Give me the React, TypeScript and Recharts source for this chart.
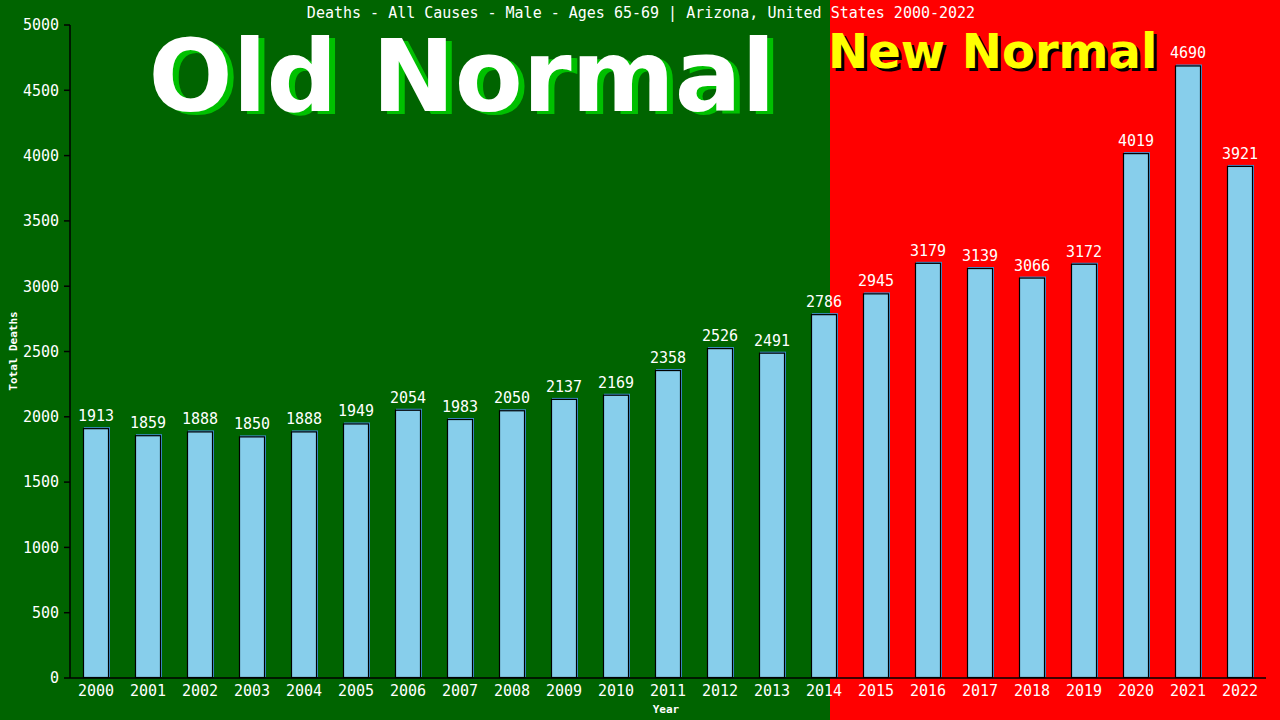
import React from "react";
import {
  BarChart,
  Bar,
  XAxis,
  YAxis,
  LabelList,
} from "recharts";

const YEARS = [
  "2000", "2001", "2002", "2003", "2004", "2005", "2006", "2007", "2008", "2009", "2010", "2011",
  "2012", "2013", "2014", "2015", "2016", "2017", "2018", "2019", "2020", "2021", "2022",
];
const DEATHS = [
  1913, 1859, 1888, 1850, 1888, 1949, 2054, 1983, 2050, 2137, 2169, 2358,
  2526, 2491, 2786, 2945, 3179, 3139, 3066, 3172, 4019, 4690, 3921,
];
const Y_TICKS = [0, 500, 1000, 1500, 2000, 2500, 3000, 3500, 4000, 4500, 5000];
const TITLE = "Deaths - All Causes - Male - Ages 65-69 | Arizona, United States 2000-2022";

const data = YEARS.map((year, i) => ({ year, deaths: DEATHS[i] }));

const MONO = "'DejaVu Sans Mono', monospace";
const BOLD_SANS = "'DejaVu Sans', Verdana, sans-serif";

// light blue bar with black outline and a thin blue shadow up/right
const renderBar = (props: any) => {
  const x = Number(props.x);
  const y = Number(props.y);
  const width = Number(props.width);
  const height = Number(props.height);
  if (!(height > 0) || !(width > 0)) return <g />;
  return (
    <g>
      <rect x={x + 1} y={y - 1} width={width} height={height} fill="#3f8fd0" />
      <rect
        x={x + 0.5}
        y={y + 0.5}
        width={width - 1}
        height={height - 1}
        fill="#87CEEB"
        stroke="#000"
        strokeWidth={1.2}
      />
    </g>
  );
};

export default function App() {
  return (
    <div
      style={{
        position: "absolute",
        left: 0,
        top: 0,
        width: 1280,
        height: 720,
        background: "linear-gradient(to right, #006400 0px, #006400 830px, #ff0000 830px, #ff0000 1280px)",
        overflow: "hidden",
      }}
    >
      <svg width={1280} height={720} style={{ position: "absolute", left: 0, top: 0 }}>
        <text x={641} y={18} fill="#fff" fontFamily={MONO} fontSize={15} textAnchor="middle">
          {TITLE}
        </text>
        <text x={468} y={114} fill="#00c000" fontFamily={BOLD_SANS} fontWeight="bold" fontSize={99} textAnchor="middle">
          Old Normal
        </text>
        <text x={462} y={111} fill="#fff" fontFamily={BOLD_SANS} fontWeight="bold" fontSize={99} textAnchor="middle">
          Old Normal
        </text>
        <text x={831} y={71} fill="#000" fontFamily={BOLD_SANS} fontWeight="bold" fontSize={48}>
          New Normal
        </text>
        <text x={828} y={68} fill="#ffff00" fontFamily={BOLD_SANS} fontWeight="bold" fontSize={48}>
          New Normal
        </text>
        <text
          x={17}
          y={351}
          fill="#fff"
          fontFamily={MONO}
          fontWeight="bold"
          fontSize={11}
          textAnchor="middle"
          transform="rotate(-90 17 351)"
        >
          Total Deaths
        </text>
        <text x={666} y={713} fill="#fff" fontFamily={MONO} fontWeight="bold" fontSize={11} textAnchor="middle">
          Year
        </text>
      </svg>
      <div style={{ position: "absolute", left: 0, top: 0 }}>
        <BarChart
          width={1280}
          height={720}
          data={data}
          margin={{ top: 25, right: 14, left: 0, bottom: 0 }}
          barSize={26}
        >
          <XAxis
            dataKey="year"
            height={42}
            tickLine={false}
            tickMargin={1}
            axisLine={{ stroke: "#000", strokeWidth: 1.5 }}
            tick={{ fill: "#fff", fontFamily: MONO, fontSize: 15 }}
            interval={0}
          />
          <YAxis
            width={70}
            domain={[0, 5000]}
            ticks={Y_TICKS}
            tickSize={6}
            tickMargin={5}
            axisLine={{ stroke: "#000", strokeWidth: 1.5 }}
            tickLine={{ stroke: "#000", strokeWidth: 1.5 }}
            tick={{ fill: "#fff", fontFamily: MONO, fontSize: 15 }}
            interval={0}
          />
          <YAxis
            yAxisId="right"
            orientation="right"
            width={0}
            domain={[0, 5000]}
            tick={false}
            tickLine={false}
            axisLine={{ stroke: "#000", strokeWidth: 1.5 }}
          />
          <Bar
            dataKey="deaths"
            fill="#87CEEB"
            shape={renderBar}
            isAnimationActive={false}
          >
            <LabelList
              dataKey="deaths"
              position="top"
              offset={7}
              fill="#fff"
              fontFamily={MONO}
              fontSize={15}
            />
          </Bar>
        </BarChart>
      </div>
    </div>
  );
}
